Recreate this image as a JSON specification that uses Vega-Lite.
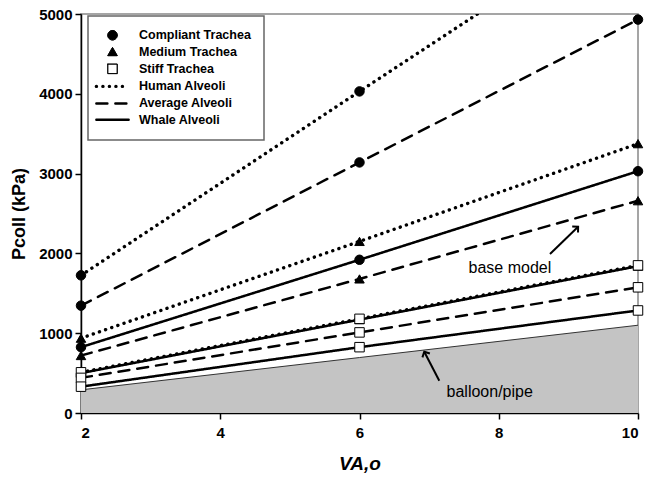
{
  "$schema": "https://vega.github.io/schema/vega-lite/v6.json",
  "width": 557,
  "height": 399,
  "autosize": "none",
  "padding": {"left": 81, "top": 14, "right": 11, "bottom": 74},
  "background": "white",
  "config": {
    "font": "Liberation Sans",
    "view": {"stroke": "#888", "strokeWidth": 1.5},
    "axis": {
      "grid": false,
      "domainColor": "black",
      "domainWidth": 1.5,
      "tickColor": "black",
      "tickWidth": 1.5,
      "tickSize": 6,
      "labelColor": "black",
      "labelFont": "Liberation Sans",
      "labelFontWeight": "bold",
      "labelFontSize": 15,
      "titleColor": "black",
      "titleFont": "Liberation Sans",
      "titleFontWeight": "bold"
    },
    "legend": {
      "fillColor": "white",
      "strokeColor": "#666",
      "strokeWidth": 1.5,
      "padding": 13,
      "labelFont": "Liberation Sans",
      "labelFontWeight": "bold",
      "labelFontSize": 12.5,
      "labelColor": "black",
      "symbolSize": 90,
      "symbolStrokeWidth": 2,
      "symbolStrokeColor": "black",
      "symbolOffset": 5,
      "labelOffset": 20,
      "rowPadding": 3.3,
      "labelLimit": 300
    }
  },
  "datasets": {
    "series": [
      {"v": 2, "p": 1725, "trachea": "Compliant Trachea", "alveoli": "Human Alveoli", "series": "CH"},
      {"v": 6, "p": 4030, "trachea": "Compliant Trachea", "alveoli": "Human Alveoli", "series": "CH"},
      {"v": 10, "p": 6320, "trachea": "Compliant Trachea", "alveoli": "Human Alveoli", "series": "CH"},
      {"v": 2, "p": 1345, "trachea": "Compliant Trachea", "alveoli": "Average Alveoli", "series": "CA"},
      {"v": 6, "p": 3140, "trachea": "Compliant Trachea", "alveoli": "Average Alveoli", "series": "CA"},
      {"v": 10, "p": 4930, "trachea": "Compliant Trachea", "alveoli": "Average Alveoli", "series": "CA"},
      {"v": 2, "p": 825, "trachea": "Compliant Trachea", "alveoli": "Whale Alveoli", "series": "CW"},
      {"v": 6, "p": 1920, "trachea": "Compliant Trachea", "alveoli": "Whale Alveoli", "series": "CW"},
      {"v": 10, "p": 3030, "trachea": "Compliant Trachea", "alveoli": "Whale Alveoli", "series": "CW"},
      {"v": 2, "p": 937, "trachea": "Medium Trachea", "alveoli": "Human Alveoli", "series": "MH"},
      {"v": 6, "p": 2150, "trachea": "Medium Trachea", "alveoli": "Human Alveoli", "series": "MH"},
      {"v": 10, "p": 3375, "trachea": "Medium Trachea", "alveoli": "Human Alveoli", "series": "MH"},
      {"v": 2, "p": 720, "trachea": "Medium Trachea", "alveoli": "Average Alveoli", "series": "MA"},
      {"v": 6, "p": 1680, "trachea": "Medium Trachea", "alveoli": "Average Alveoli", "series": "MA"},
      {"v": 10, "p": 2660, "trachea": "Medium Trachea", "alveoli": "Average Alveoli", "series": "MA"},
      {"v": 2, "p": 500, "trachea": "Medium Trachea", "alveoli": "Whale Alveoli", "series": "MW"},
      {"v": 6, "p": 1170, "trachea": "Medium Trachea", "alveoli": "Whale Alveoli", "series": "MW"},
      {"v": 10, "p": 1840, "trachea": "Medium Trachea", "alveoli": "Whale Alveoli", "series": "MW"},
      {"v": 2, "p": 510, "trachea": "Stiff Trachea", "alveoli": "Human Alveoli", "series": "SH"},
      {"v": 6, "p": 1180, "trachea": "Stiff Trachea", "alveoli": "Human Alveoli", "series": "SH"},
      {"v": 10, "p": 1850, "trachea": "Stiff Trachea", "alveoli": "Human Alveoli", "series": "SH"},
      {"v": 2, "p": 440, "trachea": "Stiff Trachea", "alveoli": "Average Alveoli", "series": "SA"},
      {"v": 6, "p": 1010, "trachea": "Stiff Trachea", "alveoli": "Average Alveoli", "series": "SA"},
      {"v": 10, "p": 1575, "trachea": "Stiff Trachea", "alveoli": "Average Alveoli", "series": "SA"},
      {"v": 2, "p": 330, "trachea": "Stiff Trachea", "alveoli": "Whale Alveoli", "series": "SW"},
      {"v": 6, "p": 825, "trachea": "Stiff Trachea", "alveoli": "Whale Alveoli", "series": "SW"},
      {"v": 10, "p": 1285, "trachea": "Stiff Trachea", "alveoli": "Whale Alveoli", "series": "SW"}
    ],
    "balloon": [
      {"v": 2, "p": 290},
      {"v": 6, "p": 695},
      {"v": 10, "p": 1100}
    ],
    "notes": [
      {"label": "base model", "v": 8.16, "p": 1817},
      {"label": "balloon/pipe", "v": 7.87, "p": 263}
    ],
    "arrows": [
      {"id": "base", "v": 8.736, "p": 1992, "v2": 9.14, "p2": 2335},
      {"id": "balloon", "v": 7.146, "p": 405, "v2": 6.93, "p2": 768}
    ]
  },
  "layer": [
    {
      "data": {"name": "balloon"},
      "mark": {"type": "area", "color": "#c4c4c4", "opacity": 1, "line": {"color": "#333", "strokeWidth": 1}},
      "encoding": {
        "x": {"field": "v", "type": "quantitative", "scale": {"domain": [2, 10], "nice": false, "zero": false},
          "axis": {"values": [2, 4, 6, 8, 10], "format": "d", "title": "VA,o", "titleFontSize": 19, "titleFontStyle": "italic", "labelPadding": 6, "titlePadding": 14}},
        "y": {"field": "p", "type": "quantitative", "scale": {"domain": [0, 5000], "nice": false},
          "axis": {"values": [0, 1000, 2000, 3000, 4000, 5000], "format": "d", "title": "Pcoll (kPa)", "titleFontSize": 18, "labelPadding": 3, "titlePadding": 10}}
      }
    },
    {
      "data": {"name": "series"},
      "mark": {"type": "line", "color": "black", "strokeCap": "round", "clip": true},
      "encoding": {
        "x": {"field": "v", "type": "quantitative"},
        "y": {"field": "p", "type": "quantitative"},
        "detail": {"field": "series"},
        "strokeDash": {
          "field": "alveoli",
          "type": "nominal",
          "scale": {
            "domain": ["Compliant Trachea", "Medium Trachea", "Stiff Trachea", "Human Alveoli", "Average Alveoli", "Whale Alveoli"],
            "range": [[1, 0], [1, 0], [1, 0], [0.1, 6.4], [11, 8], [1, 0]]
          },
          "legend": {"title": null, "orient": "none", "legendX": 7, "legendY": 2,
            "encode": {"symbols": {"update": {"stroke": {"value": "black"}, "strokeCap": {"value": "round"}}}}}
        },
        "strokeWidth": {
          "field": "alveoli",
          "type": "nominal",
          "scale": {
            "type": "ordinal",
            "domain": ["Compliant Trachea", "Medium Trachea", "Stiff Trachea", "Human Alveoli", "Average Alveoli", "Whale Alveoli"],
            "range": [1, 1, 1, 3.4, 2.5, 2.5]
          },
          "legend": {"title": null, "orient": "none", "legendX": 7, "legendY": 2,
            "encode": {"symbols": {"update": {"stroke": {"value": "black"}, "strokeCap": {"value": "round"}}}}}
        }
      }
    },
    {
      "data": {"name": "series"},
      "transform": [{"filter": "datum.p <= 5000"}],
      "mark": {"type": "point", "filled": true, "stroke": "black", "strokeWidth": 1, "size": 90, "opacity": 1},
      "encoding": {
        "x": {"field": "v", "type": "quantitative"},
        "y": {"field": "p", "type": "quantitative"},
        "shape": {
          "field": "trachea",
          "type": "nominal",
          "scale": {
            "domain": ["Compliant Trachea", "Medium Trachea", "Stiff Trachea", "Human Alveoli", "Average Alveoli", "Whale Alveoli"],
            "range": ["circle", "triangle-up", "square", "M-3.4,0L3.4,0", "M-3.4,0L3.4,0", "M-3.4,0L3.4,0"]
          },
          "legend": {"title": null, "orient": "none", "legendX": 7, "legendY": 2,
            "encode": {"symbols": {"update": {"stroke": {"value": "black"}, "strokeCap": {"value": "round"}}}}}
        },
        "fill": {
          "field": "trachea",
          "type": "nominal",
          "scale": {
            "domain": ["Compliant Trachea", "Medium Trachea", "Stiff Trachea", "Human Alveoli", "Average Alveoli", "Whale Alveoli"],
            "range": ["black", "black", "white", "transparent", "transparent", "transparent"]
          },
          "legend": {"title": null, "orient": "none", "legendX": 7, "legendY": 2,
            "encode": {"symbols": {"update": {"stroke": {"value": "black"}, "strokeCap": {"value": "round"}}}}}
        }
      }
    },
    {
      "data": {"name": "arrows"},
      "mark": {"type": "rule", "color": "black", "strokeWidth": 2},
      "encoding": {
        "x": {"field": "v", "type": "quantitative"},
        "y": {"field": "p", "type": "quantitative"},
        "x2": {"field": "v2"},
        "y2": {"field": "p2"}
      }
    },
    {
      "data": {"name": "arrows"},
      "transform": [{"filter": "datum.id === 'base'"}],
      "mark": {"type": "point", "shape": "M-1,1L0,0L1,1", "filled": false, "color": "black", "strokeWidth": 2, "size": 70, "angle": 46, "opacity": 1},
      "encoding": {
        "x": {"field": "v2", "type": "quantitative"},
        "y": {"field": "p2", "type": "quantitative"}
      }
    },
    {
      "data": {"name": "arrows"},
      "transform": [{"filter": "datum.id === 'balloon'"}],
      "mark": {"type": "point", "shape": "M-1,1L0,0L1,1", "filled": false, "color": "black", "strokeWidth": 2, "size": 70, "angle": -27, "opacity": 1},
      "encoding": {
        "x": {"field": "v2", "type": "quantitative"},
        "y": {"field": "p2", "type": "quantitative"}
      }
    },
    {
      "data": {"name": "notes"},
      "mark": {"type": "text", "font": "Liberation Sans", "fontSize": 16, "color": "black", "align": "center", "baseline": "middle"},
      "encoding": {
        "x": {"field": "v", "type": "quantitative"},
        "y": {"field": "p", "type": "quantitative"},
        "text": {"field": "label"}
      }
    }
  ]
}
